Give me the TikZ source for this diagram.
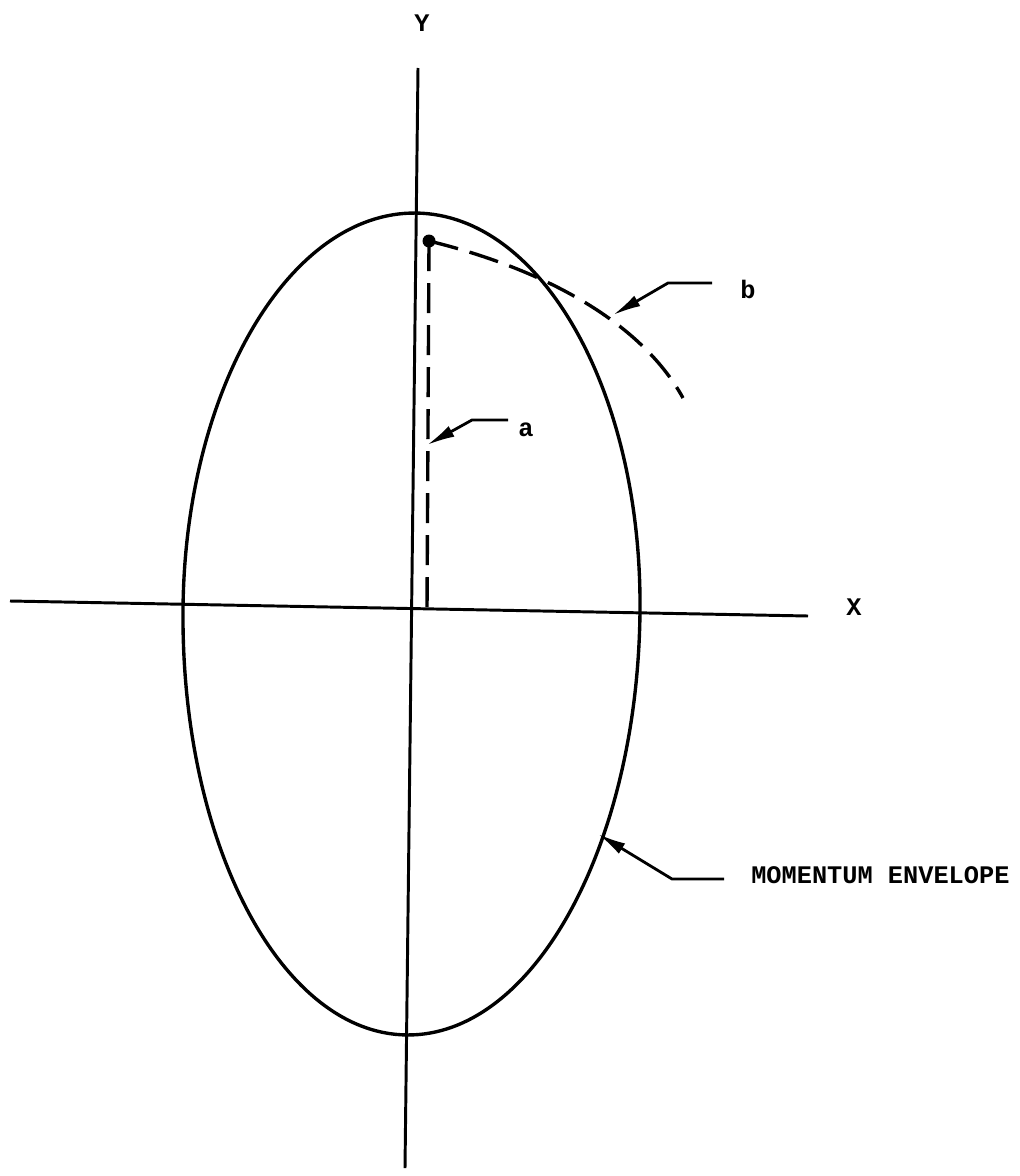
\documentclass[tikz,border=0pt]{standalone}
\usepackage{fontspec}
\setmonofont{Liberation Mono}
\usetikzlibrary{arrows.meta}
\tikzset{
  axis/.style={line width=2.1pt},
  curve/.style={line width=2.4pt},
  trace/.style={line width=2.4pt, dash pattern=on 0.75cm off 0.3cm},
  leader/.style={line width=2pt, -{Latex[length=0.7cm,width=0.3cm]}},
  lbl/.style={font=\ttfamily\bfseries\fontsize{18}{20}\selectfont, inner sep=0pt}
}
\begin{document}
\begin{tikzpicture}[x=0.025cm, y=-0.025cm]
\useasboundingbox (0,0) rectangle (1019,1176);
% axes
\coordinate (ytop) at (418,68);
\coordinate (ybot) at (405,1168);
\coordinate (xl) at (10,601);
\coordinate (xr) at (808,616);
\draw [axis] (ytop) -- (ybot);
\draw [axis] (xl) -- (xr);
\node (ylab) [lbl] at (422,23) {Y};
\node (xlab) [lbl] at (854,607) {X};
% momentum envelope
\begin{scope}[shift={(411.5,610)}, rotate=-0.65]
  \draw [curve] (228.5,0) arc [start angle=0, end angle=-180, x radius=228.5, y radius=397]
    arc [start angle=-180, end angle=-360, x radius=228.5, y radius=425];
\end{scope}
% traces a and b
\coordinate (pk) at (429,241);
\coordinate (foot) at (427,611);
\coordinate (bend) at (683,398);
\draw [trace] (pk) -- (foot);
\draw [trace] (pk) .. controls (540,268) and (640,320) .. (bend);
\fill (pk) circle [radius=6.5];
% labels
\node (a) [lbl] at (526,430) {a};
\node (b) [lbl] at (748,289) {b};
\node (env) [lbl, anchor=west] at (751,875) {MOMENTUM ENVELOPE};
\coordinate (a1) at (508,420);
\coordinate (a2) at (472,420);
\coordinate (a3) at (427,445);
\coordinate (b1) at (712,283);
\coordinate (b2) at (668,283);
\coordinate (b3) at (613,315);
\coordinate (e1) at (724,879);
\coordinate (e2) at (672,879);
\coordinate (e3) at (598,834);
\draw [leader] (a1) -- (a2) -- (a3);
\draw [leader] (b1) -- (b2) -- (b3);
\draw [leader] (e1) -- (e2) -- (e3);
\end{tikzpicture}
\end{document}
